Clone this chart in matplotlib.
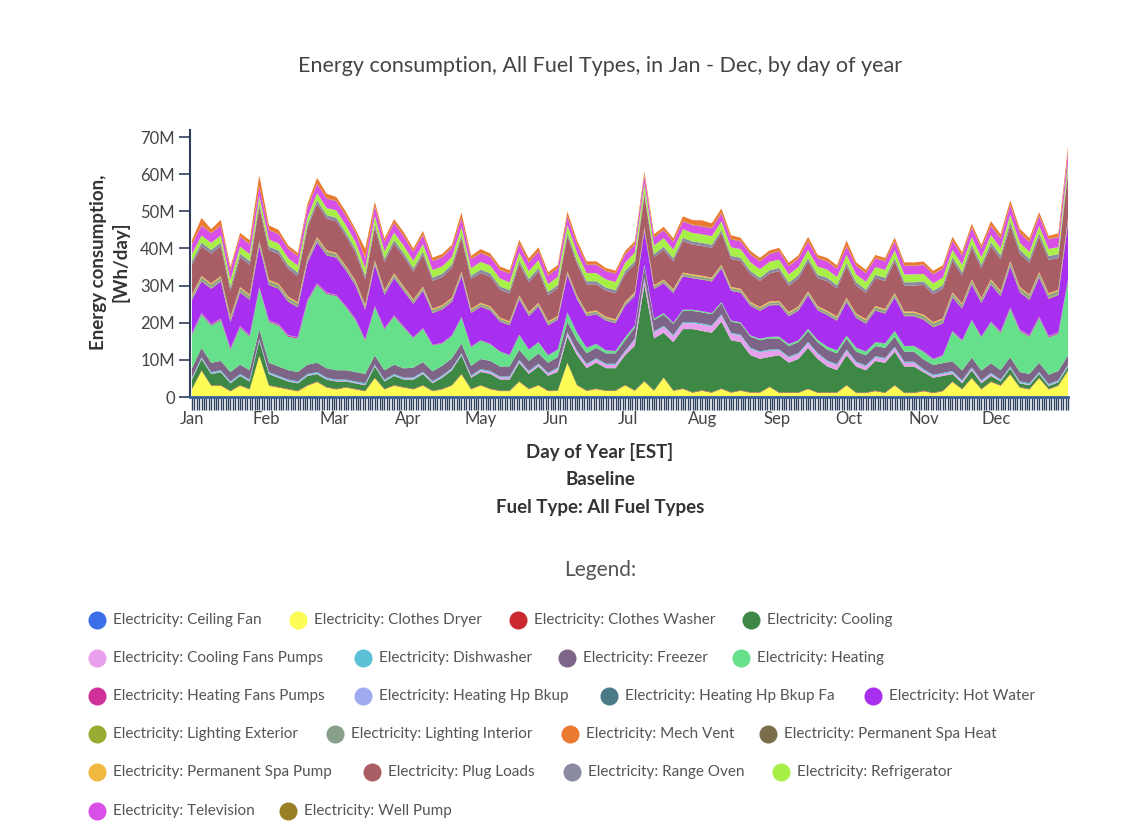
import matplotlib
matplotlib.use("Agg")
import matplotlib.pyplot as plt
import numpy as np

plt.rcParams["font.family"] = ["Lato", "DejaVu Sans"]

# ---- data (values in millions of Wh/day), sampled every 4 days ----
DAYS = list(range(0, 365, 4))
MONTH_STARTS = [0, 31, 59, 90, 120, 151, 181, 212, 243, 273, 304, 334]
MONTH_LABELS = ["Jan", "Feb", "Mar", "Apr", "May", "Jun",
                "Jul", "Aug", "Sep", "Oct", "Nov", "Dec"]

clothes_dryer = [
    2, 7, 3, 3, 1.5, 3, 2, 11,
    3, 2.5, 2, 1.5, 3, 4, 2.5,
    2, 2.5, 2, 1.5, 5, 2, 3, 2.5,
    2, 3, 1.5, 2, 3, 6, 2,
    3, 2, 1.5, 1.5, 4, 2, 3, 1.5,
    1.5, 9, 3, 1.5, 2, 1.5, 1.5, 3,
    1.5, 4, 1.5, 5, 1.5, 2, 1,
    1.5, 1, 2, 1, 1.5, 1, 1, 2.5,
    1, 1, 1, 2, 1, 1, 1, 3,
    1, 1, 1.5, 1, 3, 1, 1,
    1.5, 1, 1.5, 4, 2, 5, 2, 4,
    3, 6, 2.5, 2, 5, 2, 3, 7,
]
cooling = [
    2.5, 3, 3, 3.5, 2, 2.5, 2, 4,
    3, 2.5, 2, 2, 2.5, 2, 2,
    2, 1.5, 1.5, 1.5, 3, 2, 2.5, 2,
    2.5, 3, 2, 3, 4, 5, 3,
    3.5, 4, 3, 3, 5, 4, 5, 4,
    5, 7, 8, 6, 7, 6, 6, 8,
    12, 26, 14, 12, 13, 16, 17,
    16, 16, 18, 14, 13, 10, 9, 8,
    10, 8, 9, 11, 9, 7, 6, 8,
    7, 6, 8, 8, 9, 7, 7,
    5, 4, 4, 2, 1.5, 2, 1.5, 1.5,
    1, 1.5, 1, 1, 1, 0.8, 0.8, 1,
]
heating = [
    9, 9, 10, 11, 6, 10, 9, 11,
    11, 11, 9, 9, 17, 21, 20,
    20, 17, 14, 9, 13, 11, 13, 11,
    8, 9, 7, 6, 6, 7, 5,
    5, 4.5, 4, 3, 4, 3, 3, 2,
    2, 2.5, 2, 1.5, 1, 0.8, 0.6, 0.8,
    0.5, 0.5, 0.4, 0.4, 0.3, 0.3, 0.3,
    0.3, 0.3, 0.3, 0.3, 0.3, 0.3, 0.4, 0.4,
    0.5, 0.5, 0.5, 0.6, 0.6, 0.8, 0.8, 0.8,
    1, 1, 1, 1.2, 1.5, 1.5, 1.5,
    2, 1.5, 2, 8, 8, 10, 9, 11,
    10, 13, 11, 10, 12, 10, 10, 20,
]
hot_water = [
    9, 8.5, 9.5, 10, 7, 9, 9.5, 11,
    9.5, 9.5, 9, 8, 10, 11, 10,
    10, 9.5, 9, 8, 11, 9, 10, 9.5,
    9, 10, 8.5, 9, 9, 11, 9,
    9, 9, 8, 8, 9.5, 9, 9.5, 8,
    8, 10, 9, 8.5, 8, 8, 7.5, 8.5,
    8, 9, 8, 8, 8, 9, 8.5,
    8.5, 8.5, 9, 8, 8, 8, 7.5, 8.5,
    8.5, 7.5, 8, 9, 8, 8.5, 8, 9,
    8, 7.5, 8.5, 8, 9, 8, 8,
    8.5, 8.5, 8.5, 9, 8.5, 9.5, 9, 10,
    9.5, 11, 10, 9.5, 10.5, 10, 10, 15,
]
plug_loads = [
    8, 8, 8, 8, 7, 8, 8, 9,
    8, 8, 7.5, 7, 8, 9, 8.5,
    8.5, 8, 7.5, 7, 9, 7.5, 8, 8,
    7.5, 8.5, 7.5, 7.5, 8, 9, 8,
    8, 8, 7.5, 7.5, 8.5, 8, 8.5, 7,
    7.5, 9.5, 8.5, 7.5, 7, 7, 7, 7.5,
    7.5, 8.5, 7.5, 8, 7.5, 8.5, 8,
    8, 8, 8.5, 7.5, 7.5, 7.5, 7, 7.5,
    8, 7, 7.5, 8, 7.5, 8, 7.5, 8.5,
    7.5, 7, 7.5, 7.5, 8.5, 7, 7,
    8, 7.5, 8, 8.5, 7.5, 8.5, 8, 9,
    8.5, 9.5, 9, 8.5, 9.5, 9, 8.5, 12,
]
mech_vent = [
    1, 2, 1, 1.5, 0.8, 1, 1, 3,
    1.2, 1, 0.8, 0.8, 1, 1.5, 1.2,
    1, 1, 0.8, 2.5, 1.2, 0.8, 1, 1,
    0.8, 1, 0.8, 0.8, 0.8, 1.5, 0.8,
    1, 0.8, 0.8, 0.8, 1, 1, 1, 0.8,
    0.8, 1.2, 1, 0.8, 0.8, 0.7, 0.7, 0.8,
    0.8, 1, 0.8, 0.8, 0.8, 1.2, 1.2,
    1.5, 1.2, 1.2, 1, 0.8, 0.8, 0.8, 0.8,
    0.8, 0.8, 0.8, 1.2, 0.8, 0.8, 0.8, 1.5,
    0.8, 0.8, 0.8, 0.8, 1, 0.8, 0.8,
    0.8, 0.8, 0.8, 1, 0.8, 1, 0.8, 1.2,
    1, 1.2, 1, 1, 1, 0.8, 1, 1.5,
]

# smaller end uses, one value per month
ceiling_fan = [0.02, 0.02, 0.03, 0.05, 0.08, 0.12, 0.15, 0.15, 0.1, 0.06, 0.03, 0.02]
clothes_washer = [0.15, 0.15, 0.15, 0.14, 0.14, 0.14, 0.14, 0.14, 0.14, 0.14, 0.15, 0.15]
cooling_fans = [0.2, 0.2, 0.2, 0.3, 0.5, 0.9, 1.6, 1.7, 1.3, 1.0, 0.5, 0.2]
dishwasher = [0.35, 0.35, 0.33, 0.32, 0.3, 0.3, 0.3, 0.3, 0.3, 0.32, 0.33, 0.35]
freezer = [2.5, 2.5, 2.5, 2.6, 2.7, 2.8, 3.0, 3.0, 2.9, 2.7, 2.6, 2.5]
heating_fans = [0.3, 0.3, 0.25, 0.15, 0.08, 0.03, 0.01, 0.01, 0.02, 0.05, 0.15, 0.3]
hp_bkup = [0.1, 0.1, 0.05, 0.02, 0.0, 0.0, 0.0, 0.0, 0.0, 0.0, 0.03, 0.1]
hp_bkup_fa = [0.03, 0.03, 0.02, 0.01, 0.0, 0.0, 0.0, 0.0, 0.0, 0.0, 0.01, 0.03]
lighting_ext = [0.25, 0.24, 0.22, 0.2, 0.18, 0.17, 0.17, 0.18, 0.2, 0.22, 0.24, 0.25]
lighting_int = [0.7, 0.65, 0.6, 0.55, 0.5, 0.48, 0.48, 0.5, 0.55, 0.6, 0.68, 0.72]
spa_heat = [0.15, 0.15, 0.12, 0.1, 0.08, 0.06, 0.05, 0.05, 0.06, 0.08, 0.12, 0.15]
spa_pump = [0.35, 0.35, 0.34, 0.34, 0.33, 0.33, 0.33, 0.33, 0.33, 0.34, 0.35, 0.35]
range_oven = [1.0, 0.95, 0.95, 0.9, 0.9, 0.85, 0.85, 0.85, 0.9, 0.9, 0.95, 1.05]
refrigerator = [1.9, 1.9, 2.0, 2.0, 2.1, 2.2, 2.3, 2.3, 2.2, 2.1, 2.0, 1.9]
television = [2.6, 2.5, 2.5, 2.4, 2.3, 2.2, 2.1, 2.1, 2.2, 2.3, 2.4, 2.6]
well_pump = [0.12, 0.12, 0.12, 0.13, 0.14, 0.15, 0.16, 0.16, 0.15, 0.14, 0.13, 0.12]

days = np.array(DAYS)
month_idx = np.searchsorted(MONTH_STARTS, days, side="right") - 1


def monthly(vals):
    return np.asarray(vals)[month_idx]


# legend order (name, color, values)
SERIES = [
    ("Electricity: Ceiling Fan", "#3a6fe8", monthly(ceiling_fan)),
    ("Electricity: Clothes Dryer", "#fcfc55", np.asarray(clothes_dryer)),
    ("Electricity: Clothes Washer", "#c8282e", monthly(clothes_washer)),
    ("Electricity: Cooling", "#3d8845", np.asarray(cooling)),
    ("Electricity: Cooling Fans Pumps", "#e8a0ec", monthly(cooling_fans)),
    ("Electricity: Dishwasher", "#5bc0d6", monthly(dishwasher)),
    ("Electricity: Freezer", "#7e6486", monthly(freezer)),
    ("Electricity: Heating", "#66e08a", np.asarray(heating)),
    ("Electricity: Heating Fans Pumps", "#d0309a", monthly(heating_fans)),
    ("Electricity: Heating Hp Bkup", "#a0aaf0", monthly(hp_bkup)),
    ("Electricity: Heating Hp Bkup Fa", "#4a7a86", monthly(hp_bkup_fa)),
    ("Electricity: Hot Water", "#a82ef0", np.asarray(hot_water)),
    ("Electricity: Lighting Exterior", "#9aab34", monthly(lighting_ext)),
    ("Electricity: Lighting Interior", "#88a08a", monthly(lighting_int)),
    ("Electricity: Mech Vent", "#ea7a30", np.asarray(mech_vent)),
    ("Electricity: Permanent Spa Heat", "#7a6e4a", monthly(spa_heat)),
    ("Electricity: Permanent Spa Pump", "#f0b840", monthly(spa_pump)),
    ("Electricity: Plug Loads", "#a85e64", np.asarray(plug_loads)),
    ("Electricity: Range Oven", "#8a8aa0", monthly(range_oven)),
    ("Electricity: Refrigerator", "#a8f048", monthly(refrigerator)),
    ("Electricity: Television", "#d850e8", monthly(television)),
    ("Electricity: Well Pump", "#9a7e26", monthly(well_pump)),
]

# drawing order: mech vent sits on top of the stack
STACK_ORDER = [0, 1, 2, 3, 4, 5, 6, 7, 8, 9, 10, 11, 12, 13, 15, 16, 17, 18, 19, 20, 21, 14]

W, H = 1132, 826
fig = plt.figure(figsize=(W / 100, H / 100), dpi=100)
fig.patch.set_facecolor("white")


def fx(px):
    return px / W


def fy(py):
    return 1 - py / H


ax = fig.add_axes([fx(190), fy(397), fx(1068) - fx(190), fy(130) - fy(397)])
ax.stackplot(days,
             *[SERIES[k][2] * 1e6 for k in STACK_ORDER],
             colors=[SERIES[k][1] for k in STACK_ORDER],
             linewidth=0)

ax.set_xlim(-0.8, 364)
ax.set_ylim(0, 71.9e6)
ax.set_yticks(np.arange(0, 71e6, 10e6))
ax.set_yticklabels(["0"] + [f"{v}M" for v in range(10, 80, 10)])
ax.set_xticks(MONTH_STARTS)
ax.set_xticklabels(MONTH_LABELS)
ax.set_xticks(np.arange(0, 365), minor=True)

axis_col = "#2e3f5c"
for s in ("top", "right"):
    ax.spines[s].set_visible(False)
ax.spines["left"].set_color(axis_col)
ax.spines["left"].set_linewidth(1.5)
ax.spines["bottom"].set_color("#3b5f9a")
ax.spines["bottom"].set_linewidth(2)
ax.tick_params(axis="y", length=8, width=1.2, color=axis_col,
               labelsize=12, labelcolor="#444444", pad=3)
ax.tick_params(axis="x", which="both", length=9, width=1, color=axis_col,
               labelsize=12, labelcolor="#444444", pad=1)

fig.text(fx(600), fy(66), "Energy consumption, All Fuel Types, in Jan - Dec, by day of year",
         ha="center", va="center", fontsize=15.5, color="#444444")
fig.text(fx(110), fy(262), "Energy consumption,\n[Wh/day]", rotation=90,
         ha="center", va="center", fontsize=13.5, fontweight="bold",
         color="#333333", linespacing=1.3)
for txt, py in [("Day of Year [EST]", 452), ("Baseline", 480),
                ("Fuel Type: All Fuel Types", 507)]:
    fig.text(fx(600), fy(py), txt, ha="center", va="center",
             fontsize=13.5, fontweight="bold", color="#333333")

fig.text(fx(600), fy(570), "Legend:", ha="center", va="center",
         fontsize=15, color="#555555")

# legend rows: marker x positions per row
ROWS = [
    (620, [97, 298, 518, 751]),
    (658, [97, 363, 567, 741]),
    (696, [97, 363, 609, 873]),
    (734, [97, 335, 570, 768]),
    (772, [97, 372, 572, 781]),
    (811, [97, 288]),
]
lax = fig.add_axes([0, 0, 1, 1])
lax.set_xlim(0, W)
lax.set_ylim(H, 0)
lax.axis("off")
k = 0
for py, xs in ROWS:
    for px in xs:
        name, col, _ = SERIES[k]
        lax.plot(px, py, "o", ms=13, color=col, mec="none")
        lax.text(px + 16, py, name, ha="left", va="center",
                 fontsize=11, color="#555555")
        k += 1

fig.savefig("out.png", dpi=100)
